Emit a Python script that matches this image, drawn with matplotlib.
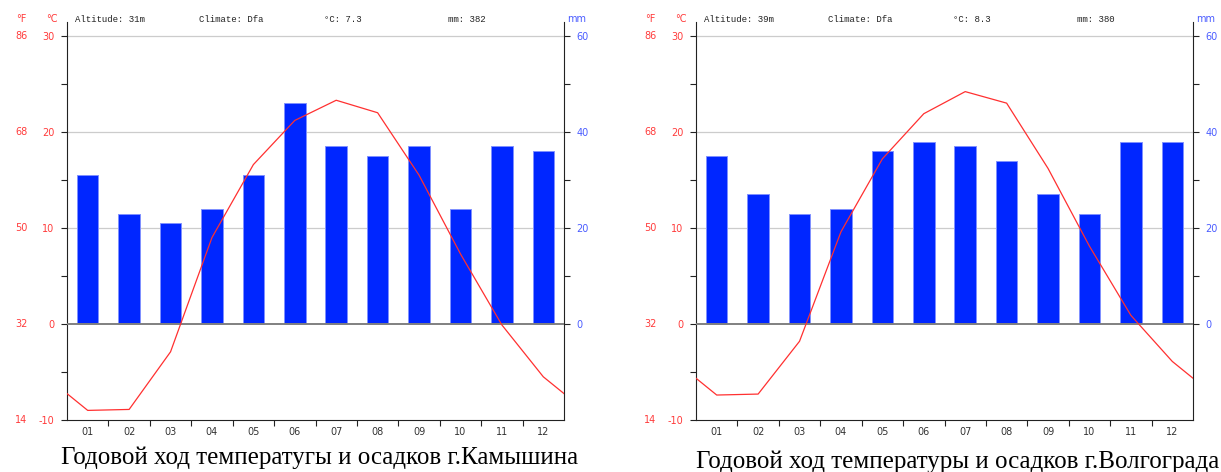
import matplotlib
matplotlib.use("Agg")
import matplotlib.pyplot as plt
import numpy as np

months = ["01", "02", "03", "04", "05", "06", "07", "08", "09", "10", "11", "12"]

# Kamyshin
kam_temp = [-9.0, -8.9, -2.9, 9.0, 16.6, 21.2, 23.3, 22.0, 15.5, 7.3, -0.1, -5.5]
kam_prec = [31, 23, 21, 24, 31, 46, 37, 35, 37, 24, 37, 36]
kam_info = ["Altitude: 31m", "Climate: Dfa", "°C: 7.3", "mm: 382"]
kam_title = "Годовой ход температугы и осадков г.Камышина"

# Volgograd
vol_temp = [-7.4, -7.3, -1.8, 9.6, 17.2, 21.9, 24.2, 23.0, 16.2, 8.1, 0.9, -3.9]
vol_prec = [35, 27, 23, 24, 36, 38, 37, 34, 27, 23, 38, 38]
vol_info = ["Altitude: 39m", "Climate: Dfa", "°C: 8.3", "mm: 380"]
vol_title = "Годовой ход температуры и осадков г.Волгограда"

c_ticks = [-10, 0, 10, 20, 30]
f_ticks = ["14", "32", "50", "68", "86"]
mm_ticks = [0, 20, 40, 60]

RED = "#ff3b3b"
BLUE = "#4a5cff"
BAR = "#0026ff"
BAR_EDGE = "#8090ff"

fig = plt.figure(figsize=(12.21, 4.72), dpi=100)

def panel(left_px, right_px, temp, prec, info, title, title_x, title_y):
    W, H = 1221.0, 472.0
    top_px, bot_px = 22.0, 420.0
    rect = [left_px / W, 1 - bot_px / H, (right_px - left_px) / W, (bot_px - top_px) / H]
    ax2 = fig.add_axes(rect)
    ax = fig.add_axes(rect, sharex=ax2)
    ax.set_zorder(2)
    ax2.set_zorder(1)
    ax.patch.set_alpha(0)

    ylo, yhi = -10, 31.45
    ax.set_ylim(ylo, yhi)
    ax2.set_ylim(2 * ylo, 2 * yhi)
    ax.set_xlim(0.5, 12.5)

    x = np.arange(1, 13)
    # grid lines (behind bars)
    for g in mm_ticks[1:]:
        ax2.axhline(g, color="#cccccc", lw=0.9, zorder=0)
    ax2.bar(x, prec, width=0.52, color=BAR, edgecolor=BAR_EDGE, lw=0.7, zorder=2)
    ax.axhline(0, color="#808080", lw=1.4, zorder=3)

    # temperature line, wrapped at the edges
    edge = (temp[0] + temp[-1]) / 2.0
    xs = np.concatenate([[0.5], x, [12.5]])
    ys = np.concatenate([[edge], temp, [edge]])
    ax.plot(xs, ys, color="#ff3030", lw=0.9, zorder=4)

    # spines
    for s in ["top", "right"]:
        ax.spines[s].set_visible(False)
    for s in ["top", "left", "bottom"]:
        ax2.spines[s].set_visible(False)
    ax.spines["left"].set_color("#222222")
    ax.spines["bottom"].set_color("#222222")
    ax2.spines["right"].set_color("#222222")

    # left ticks
    ax.set_yticks(c_ticks)
    ax.set_yticklabels([str(t) for t in c_ticks], color=RED, fontsize=7)
    ax.set_yticks([-5, 5, 15, 25], minor=True)
    ax.tick_params(axis="y", which="both", length=4, width=0.8, color="#222222", pad=5)
    # right ticks
    ax2.yaxis.tick_right()
    ax2.set_yticks(mm_ticks)
    ax2.set_yticklabels([str(t) for t in mm_ticks], color=BLUE, fontsize=7)
    ax2.set_yticks([10, 30, 50], minor=True)
    ax2.tick_params(axis="y", which="both", length=4, width=0.8, color="#222222", pad=5)
    ax2.tick_params(axis="x", which="both", length=0, labelbottom=False)

    # x ticks
    ax.set_xticks(x)
    ax.set_xticklabels(months, fontsize=7, color="#333333")
    ax.set_xticks(np.arange(1.5, 12.5, 1.0), minor=True)
    ax.tick_params(axis="x", which="major", length=0, pad=5)
    ax.tick_params(axis="x", which="minor", length=4, width=0.8, color="#222222")

    # Fahrenheit labels
    for c, f in zip(c_ticks, f_ticks):
        ax.annotate(f, xy=(0, c), xycoords=("axes fraction", "data"),
                    xytext=(-33, 0), textcoords="offset points",
                    ha="center", va="center", color=RED, fontsize=7)
    # unit headers
    ax.annotate("°F", xy=(0, 1), xycoords="axes fraction", xytext=(-33, 2),
                textcoords="offset points", ha="center", va="center", color=RED, fontsize=7)
    ax.annotate("°C", xy=(0, 1), xycoords="axes fraction", xytext=(-11, 2),
                textcoords="offset points", ha="center", va="center", color=RED, fontsize=7)
    ax.annotate("mm", xy=(1, 1), xycoords="axes fraction", xytext=(9, 2),
                textcoords="offset points", ha="center", va="center", color=BLUE, fontsize=7)

    # info row
    offs = [6, 95, 185, 274]
    for t, o in zip(info, offs):
        ax.annotate(t, xy=(0, 1), xycoords="axes fraction", xytext=(o, 2),
                    textcoords="offset points", ha="left", va="center",
                    fontsize=6.5, family="Liberation Mono", color="#222222")

    fig.text(title_x / W, 1 - title_y / H, title, ha="center", va="center",
             fontsize=18, family="Liberation Serif", color="black")

panel(67, 564, kam_temp, kam_prec, kam_info, kam_title, 320, 458)
panel(696, 1193, vol_temp, vol_prec, vol_info, vol_title, 958, 462)

fig.savefig("out.png", dpi=100)
